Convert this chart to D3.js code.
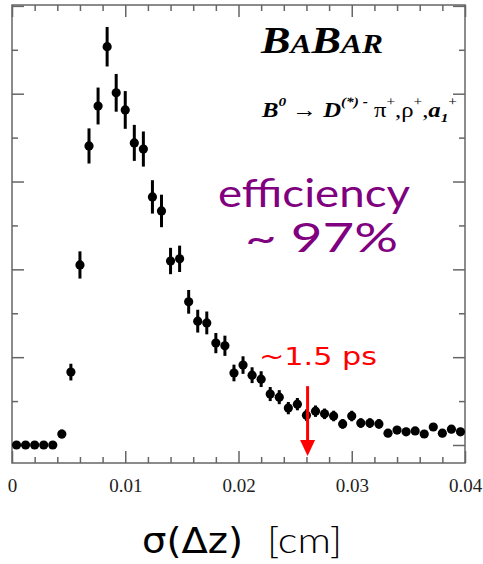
<!DOCTYPE html>
<html>
<head>
<meta charset="utf-8">
<script src="https://cdn.jsdelivr.net/npm/d3@7"></script>
<style>
  html, body { margin: 0; padding: 0; background: #fff; }
  svg { display: block; }
</style>
</head>
<body>
<svg id="chart" width="483" height="564"></svg>
<script>
// data: bin centres (cm), entries (arb. units), errors
const binCenters = d3.range(50).map(k => 0.0004 + k * 0.0008);
const counts = [
  0, 0, 0, 0, 0, 0.25, 1.66, 4.10, 6.81, 7.72,
  9.07, 8.02, 7.63, 6.88, 6.74, 5.65, 5.33, 4.19, 4.24, 3.26,
  2.82, 2.78, 2.32, 2.26, 1.64, 1.82, 1.59, 1.50, 1.16, 1.09,
  0.84, 0.93, 0.68, 0.77, 0.71, 0.66, 0.48, 0.66, 0.50, 0.50,
  0.48, 0.27, 0.34, 0.30, 0.32, 0.25, 0.41, 0.27, 0.36, 0.30
];
const errors = [
  0.04, 0.04, 0.04, 0.04, 0.04, 0.10, 0.19, 0.31, 0.40, 0.42,
  0.45, 0.43, 0.43, 0.41, 0.40, 0.38, 0.37, 0.30, 0.30, 0.27,
  0.26, 0.26, 0.23, 0.23, 0.19, 0.20, 0.18, 0.18, 0.16, 0.16,
  0.14, 0.14, 0.13, 0.13, 0.12, 0.12, 0.11, 0.12, 0.11, 0.11,
  0.11, 0.09, 0.09, 0.09, 0.09, 0.09, 0.09, 0.09, 0.09, 0.09
];
const xMajorTicks = [0, 0.01, 0.02, 0.03, 0.04];
const xTickLabels = ['0', '0.01', '0.02', '0.03', '0.04'];
const xMinorTicks = d3.range(0, 0.0401, 0.002).filter(v => Math.abs(v / 0.01 - Math.round(v / 0.01)) > 1e-6);
const yMajorTicks = [0, 2, 4, 6, 8, 10];
const yMinorTicks = [1, 3, 5, 7, 9];

// annotation (arrow at ~1.5 ps)
const ARROW_X = 0.0261;
const ARROW_TOP = 1.34;
const ARROW_TIP = -0.25;

// configs
const FRAME = { left: 12, right: 465, top: 5, bottom: 463 };
const AXIS_COLOR = '#666';
const MAJOR_LEN = 12;
const MINOR_LEN = 6;

const svg = d3.select('#chart');

const x = d3.scaleLinear().domain([0, 0.04]).range([FRAME.left, FRAME.right]);
const y = d3.scaleLinear().domain([-0.41, 10.02]).range([FRAME.bottom, FRAME.top]);

// axes (ticks point inward)
function styleAxis(g) {
  g.select('.domain').remove();
  g.selectAll('.tick line').attr('stroke', AXIS_COLOR).attr('stroke-width', 1.5);
}

// bottom: major with labels
svg.append('g')
  .attr('transform', `translate(0,${FRAME.bottom})`)
  .call(d3.axisBottom(x).tickValues(xMajorTicks).tickSize(-MAJOR_LEN).tickPadding(16)
    .tickFormat((d, i) => xTickLabels[i]))
  .call(styleAxis)
  .call(g => g.selectAll('.tick text')
    .attr('fill', '#222')
    .style('font-family', '"Liberation Serif", "Times New Roman", serif')
    .style('font-size', '19px'));

svg.append('g')
  .attr('transform', `translate(0,${FRAME.bottom})`)
  .call(d3.axisBottom(x).tickValues(xMinorTicks).tickSize(-MINOR_LEN).tickFormat(''))
  .call(styleAxis);

// top
svg.append('g')
  .attr('transform', `translate(0,${FRAME.top})`)
  .call(d3.axisTop(x).tickValues(xMajorTicks).tickSize(-MAJOR_LEN).tickFormat(''))
  .call(styleAxis);
svg.append('g')
  .attr('transform', `translate(0,${FRAME.top})`)
  .call(d3.axisTop(x).tickValues(xMinorTicks).tickSize(-MINOR_LEN).tickFormat(''))
  .call(styleAxis);

// left / right
[[d3.axisLeft, FRAME.left], [d3.axisRight, FRAME.right]].forEach(([axisFn, px]) => {
  svg.append('g')
    .attr('transform', `translate(${px},0)`)
    .call(axisFn(y).tickValues(yMajorTicks).tickSize(-MAJOR_LEN).tickFormat(''))
    .call(styleAxis);
  svg.append('g')
    .attr('transform', `translate(${px},0)`)
    .call(axisFn(y).tickValues(yMinorTicks).tickSize(-MINOR_LEN).tickFormat(''))
    .call(styleAxis);
});

// frame
svg.append('rect')
  .attr('x', FRAME.left)
  .attr('y', FRAME.top)
  .attr('width', FRAME.right - FRAME.left)
  .attr('height', FRAME.bottom - FRAME.top)
  .attr('fill', 'none')
  .attr('stroke', AXIS_COLOR)
  .attr('stroke-width', 1.5);

// data points with error bars
const points = binCenters.map((c, i) => ({ x: c, y: counts[i], e: errors[i] }));

const pts = svg.append('g').attr('class', 'points');

pts.selectAll('line.err')
  .data(points)
  .enter().append('line')
  .attr('class', 'err')
  .attr('x1', d => x(d.x))
  .attr('x2', d => x(d.x))
  .attr('y1', d => y(d.y - d.e))
  .attr('y2', d => y(d.y + d.e))
  .attr('stroke', '#000')
  .attr('stroke-width', 3);

pts.selectAll('circle')
  .data(points)
  .enter().append('circle')
  .attr('cx', d => x(d.x))
  .attr('cy', d => y(d.y))
  .attr('r', 4.6)
  .attr('fill', '#000');

// red arrow
const ax = x(ARROW_X);
svg.append('line')
  .attr('x1', ax).attr('x2', ax)
  .attr('y1', y(ARROW_TOP)).attr('y2', y(ARROW_TIP) - 12)
  .attr('stroke', '#f00')
  .attr('stroke-width', 3);
svg.append('path')
  .attr('d', `M${ax - 7.5},${y(ARROW_TIP) - 16} L${ax + 7.5},${y(ARROW_TIP) - 16} L${ax},${y(ARROW_TIP)} Z`)
  .attr('fill', '#f00');

// BaBar logo
const serif = '"Liberation Serif", "Times New Roman", serif';
const logo = svg.append('text')
  .attr('x', 261).attr('y', 53)
  .attr('font-family', serif)
  .attr('font-weight', 'bold')
  .attr('font-style', 'italic')
  .attr('fill', '#000')
  .attr('textLength', 122)
  .attr('lengthAdjust', 'spacingAndGlyphs');
logo.append('tspan').attr('font-size', 38).text('B');
logo.append('tspan').attr('font-size', 27).text('A');
logo.append('tspan').attr('font-size', 38).text('B');
logo.append('tspan').attr('font-size', 27).text('AR');

// decay formula (explicit baselines for sub/superscripts)
const BASE = 117, SUP = 106, SUB = 122;
const f = svg.append('text')
  .attr('x', 262).attr('y', BASE)
  .attr('font-family', serif)
  .attr('font-size', 21)
  .attr('fill', '#000')
  .attr('textLength', 195)
  .attr('lengthAdjust', 'spacingAndGlyphs');
const part = (t, yy, opts = {}) => {
  const s = f.append('tspan').attr('y', yy).text(t);
  if (opts.bi) s.attr('font-weight', 'bold').attr('font-style', 'italic');
  if (opts.small) s.attr('font-size', 13);
  return s;
};
part('B', BASE, { bi: true });
part('0', SUP, { bi: true, small: true });
part(' \u2192 ', BASE);
part('D', BASE, { bi: true });
part('(*) -', SUP, { bi: true, small: true });
part(' \u03C0', BASE);
part('+', SUP, { small: true });
part(',\u03C1', BASE);
part('+', SUP, { small: true });
part(',', BASE);
part('a', BASE, { bi: true });
part('1', SUB, { bi: true, small: true });
part('+', SUP, { small: true });

// efficiency annotation
const hand = '"Comic Sans MS", "Lato", "Open Sans", sans-serif';
svg.append('text')
  .attr('x', 218).attr('y', 207)
  .attr('font-family', hand)
  .attr('font-size', 38)
  .attr('fill', '#800080')
  .attr('textLength', 192)
  .attr('lengthAdjust', 'spacingAndGlyphs')
  .text('efficiency');
svg.append('text')
  .attr('x', 245).attr('y', 252)
  .attr('font-family', hand)
  .attr('font-size', 40)
  .attr('fill', '#800080')
  .attr('textLength', 153)
  .attr('lengthAdjust', 'spacingAndGlyphs')
  .text('~ 97%');

// ~1.5 ps
svg.append('text')
  .attr('x', 259).attr('y', 365)
  .attr('font-family', '"DejaVu Sans", Verdana, sans-serif')
  .attr('font-size', 25)
  .attr('fill', '#f00')
  .attr('textLength', 118)
  .attr('lengthAdjust', 'spacingAndGlyphs')
  .text('~1.5 ps');

// x axis title
svg.append('text')
  .attr('x', 142).attr('y', 553)
  .attr('font-family', '"DejaVu Sans", sans-serif')
  .attr('font-size', 36)
  .attr('fill', '#000')
  .attr('textLength', 101)
  .attr('lengthAdjust', 'spacingAndGlyphs')
  .text('\u03C3(\u0394z)');
svg.append('text')
  .attr('x', 267).attr('y', 553)
  .attr('font-family', hand)
  .attr('font-weight', 300)
  .attr('font-size', 36)
  .attr('fill', '#000')
  .attr('textLength', 75)
  .attr('lengthAdjust', 'spacingAndGlyphs')
  .text('[cm]');
</script>
</body>
</html>
